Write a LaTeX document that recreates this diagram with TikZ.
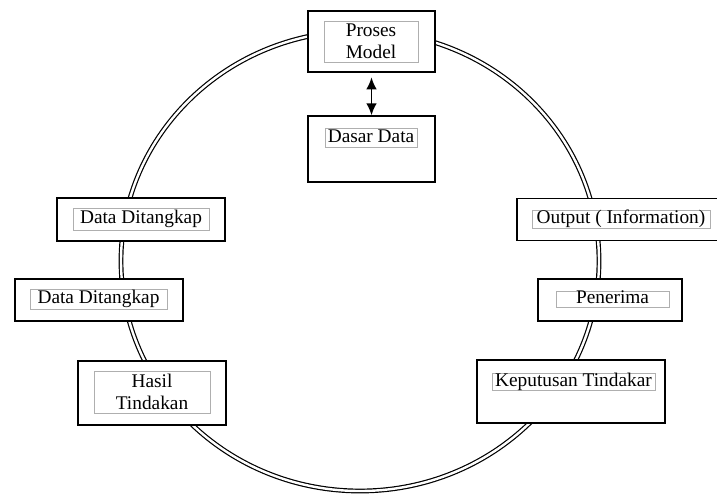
\documentclass[tikz,border=0pt]{standalone}
\usepackage{fontspec}
\setmainfont{Liberation Serif}
\usetikzlibrary{arrows.meta}

\tikzset{
  outerbox/.style={draw, line width=1pt, fill=white, inner sep=0pt},
  innerbox/.style={draw={rgb, 255:red, 175; green, 175; blue, 175}, line width=0.6pt, inner sep=0pt, align=center, font=\fontsize{14.5}{16.5}\selectfont},
  oneline/.style={text height=9.5pt, text depth=2.5pt},
  sz/.style 2 args={minimum width=#1*0.75pt, minimum height=#2*0.75pt},
}

\begin{document}
\begin{tikzpicture}[x=0.75pt,y=0.75pt,yscale=-1,xscale=1]
        \useasboundingbox (0,0) rectangle (717,495);
        \clip (0,0) rectangle (717,495);

        %Shape: Ellipse
        \draw  [line width=0.9pt, double, double distance=1.8pt]  (360,261) ellipse [x radius=239, y radius=230];

        %Shape: Rectangle
        \node [outerbox, sz={127}{61}] (proses) at (371.5,41.5) {};
        %Shape: Rectangle
        \node [outerbox, sz={127}{66}] (dasar) at (371.5,149) {};
        %Shape: Rectangle
        \node [outerbox, sz={168}{43}] (tangkap1) at (141,219.5) {};
        %Shape: Rectangle
        \node [outerbox, sz={168}{42}] (tangkap2) at (99,300) {};
        %Shape: Rectangle
        \node [outerbox, sz={148}{64}] (hasil) at (152,393) {};
        %Shape: Rectangle
        \node [outerbox, sz={205}{42}] (output) at (619.5,219.5) {};
        %Shape: Rectangle
        \node [outerbox, sz={144}{42}] (penerima) at (610,300) {};
        %Shape: Rectangle
        \node [outerbox, sz={188}{63}] (keputusan) at (571,391.5) {};

        %Straight Lines
        \draw  [{Latex[length=9pt,width=8pt]}-{Latex[length=9pt,width=8pt]}, line width=1.3pt, shorten <=3.5pt]  (proses) -- (dasar) ;

        % Text Node
        \node [innerbox, sz={94}{41}] (prosesT) at (371,41.5) {Proses\\Model};
        % Text Node
        \node [innerbox, oneline, sz={92}{19}] (dasarT) at (371,137.5) {Dasar Data};
        % Text Node
        \node [innerbox, oneline, sz={136}{22}] (tangkap1T) at (141,219) {Data Ditangkap};
        % Text Node
        \node [innerbox, oneline, sz={137}{20}] (tangkap2T) at (98.5,299) {Data Ditangkap};
        % Text Node
        \node [innerbox, sz={116}{42}] (hasilT) at (152,392) {Hasil\\Tindakan};
        % Text Node
        \node [innerbox, oneline, sz={178}{18}] (outputT) at (621,219) {Output ( Information)};
        % Text Node
        \node [innerbox, oneline, sz={113}{14}] (penerimaT) at (612.5,299) {Penerima};
        % Text Node
        \node [innerbox, oneline, sz={163}{17}] (keputusanT) at (573.5,381.5) {Keputusan Tindakar};

    \end{tikzpicture}
\end{document}
